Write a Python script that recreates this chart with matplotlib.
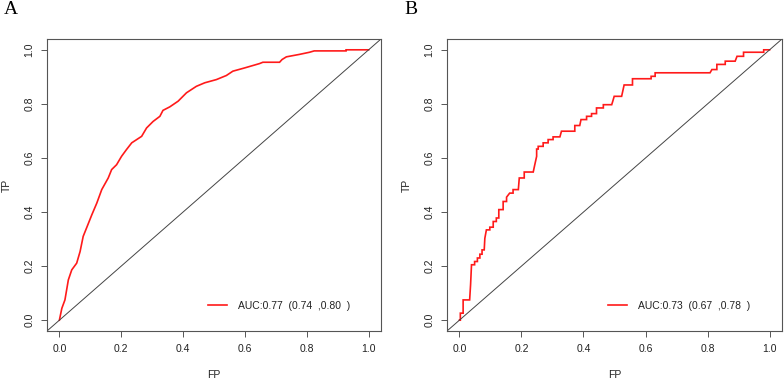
import matplotlib
matplotlib.use("Agg")
import matplotlib.pyplot as plt

plt.rcParams['font.family'] = ['Liberation Sans', 'DejaVu Sans']

# Panel A ROC curve (FP, TP)
fp_a = [0.0, 0.008, 0.018, 0.029, 0.040, 0.056, 0.067, 0.077, 0.090, 0.105, 0.121,
        0.137, 0.158, 0.169, 0.185, 0.201, 0.217, 0.234, 0.266, 0.282, 0.303, 0.325,
        0.335, 0.357, 0.384, 0.411, 0.443, 0.470, 0.508, 0.540, 0.561, 0.599, 0.647,
        0.658, 0.712, 0.720, 0.734, 0.776, 0.809, 0.824, 0.927, 0.927, 1.0]
tp_a = [0.0, 0.044, 0.075, 0.149, 0.186, 0.211, 0.254, 0.310, 0.347, 0.390, 0.433,
        0.483, 0.526, 0.557, 0.575, 0.606, 0.631, 0.656, 0.680, 0.711, 0.735, 0.754,
        0.776, 0.789, 0.810, 0.841, 0.865, 0.878, 0.890, 0.905, 0.921, 0.933, 0.949,
        0.954, 0.954, 0.964, 0.974, 0.983, 0.991, 0.996, 0.996, 1.0, 1.0]

# Panel B ROC curve (FP, TP)
fp_b = [0.0, 0.003, 0.003, 0.012, 0.012, 0.033, 0.036, 0.039, 0.049, 0.049, 0.058,
        0.058, 0.066, 0.066, 0.073, 0.073, 0.080, 0.082, 0.087, 0.098, 0.098, 0.109,
        0.109, 0.119, 0.119, 0.127, 0.127, 0.141, 0.141, 0.152, 0.152, 0.162, 0.173,
        0.173, 0.190, 0.193, 0.209, 0.209, 0.238, 0.243, 0.249, 0.249, 0.254, 0.254,
        0.270, 0.270, 0.286, 0.286, 0.302, 0.302, 0.324, 0.329, 0.372, 0.372, 0.388,
        0.392, 0.410, 0.410, 0.426, 0.426, 0.442, 0.442, 0.464, 0.464, 0.491, 0.495,
        0.499, 0.523, 0.531, 0.558, 0.558, 0.618, 0.618, 0.631, 0.631, 0.808, 0.814,
        0.830, 0.830, 0.857, 0.857, 0.889, 0.895, 0.916, 0.916, 0.981, 0.981, 0.997, 1.0]
tp_b = [0.0, 0.0, 0.026, 0.026, 0.075, 0.075, 0.131, 0.205, 0.205, 0.217, 0.217,
        0.230, 0.230, 0.244, 0.244, 0.260, 0.260, 0.303, 0.334, 0.334, 0.344, 0.344,
        0.365, 0.365, 0.378, 0.378, 0.409, 0.409, 0.439, 0.439, 0.455, 0.470, 0.470,
        0.483, 0.483, 0.526, 0.526, 0.548, 0.548, 0.575, 0.606, 0.633, 0.633, 0.643,
        0.643, 0.656, 0.656, 0.668, 0.668, 0.678, 0.678, 0.699, 0.699, 0.720, 0.720,
        0.742, 0.742, 0.754, 0.754, 0.764, 0.764, 0.785, 0.785, 0.797, 0.797, 0.812,
        0.828, 0.828, 0.870, 0.870, 0.893, 0.893, 0.902, 0.902, 0.915, 0.915, 0.927,
        0.927, 0.946, 0.946, 0.958, 0.958, 0.976, 0.976, 0.991, 0.991, 1.0, 1.0, 1.0]

labels = ["AUC:0.77  (0.74  ,0.80  )", "AUC:0.73  (0.67  ,0.78  )"]
panel_letters = ["A", "B"]
ticks = [0.0, 0.2, 0.4, 0.6, 0.8, 1.0]
tick_labels = ["0.0", "0.2", "0.4", "0.6", "0.8", "1.0"]

W, H = 784, 379
fig = plt.figure(figsize=(W / 100, H / 100), dpi=100)

boxes = [(47, 381), (447, 782)]
top_px, bot_px = 39, 331
curves = [(fp_a, tp_a), (fp_b, tp_b)]
letter_x = [4, 404]

frame_col = '#555555'
for i, ((l, r), (fx, ty)) in enumerate(zip(boxes, curves)):
    ax = fig.add_axes([l / W, (H - bot_px) / H, (r - l) / W, (bot_px - top_px) / H])
    ax.plot(fx, ty, color='#ff1a1a', lw=1.2, label=labels[i], solid_joinstyle='miter')
    ax.axline((0, 0), (1, 1), color='#444444', lw=0.7)
    ax.set_xlim(-0.04, 1.04)
    ax.set_ylim(-0.04, 1.04)
    ax.set_xticks(ticks)
    ax.set_xticklabels(tick_labels)
    ax.set_yticks(ticks)
    ax.set_yticklabels(tick_labels, rotation=90, va='center')
    ax.tick_params(axis='both', labelsize=7.5, length=4, width=0.7,
                   color=frame_col, labelcolor='#222222', pad=5)
    for s in ax.spines.values():
        s.set_color(frame_col)
        s.set_linewidth(0.8)
    ax.set_xlabel("FP", fontsize=7.5, color='#222222', labelpad=12)
    ax.set_ylabel("TP", fontsize=7.5, color='#222222', labelpad=9)
    leg = ax.legend(loc='center left', bbox_to_anchor=(0.481, 0.087), frameon=False,
                    fontsize=7.5, handlelength=1.85, handletextpad=1.05,
                    borderpad=0, borderaxespad=0)
    for t in leg.get_texts():
        t.set_color('#222222')
    fig.text(letter_x[i] / W, 1 - 10 / H, panel_letters[i], fontsize=14,
             family=['Liberation Serif'], va='center', ha='left')

fig.savefig("out.png", dpi=100)
